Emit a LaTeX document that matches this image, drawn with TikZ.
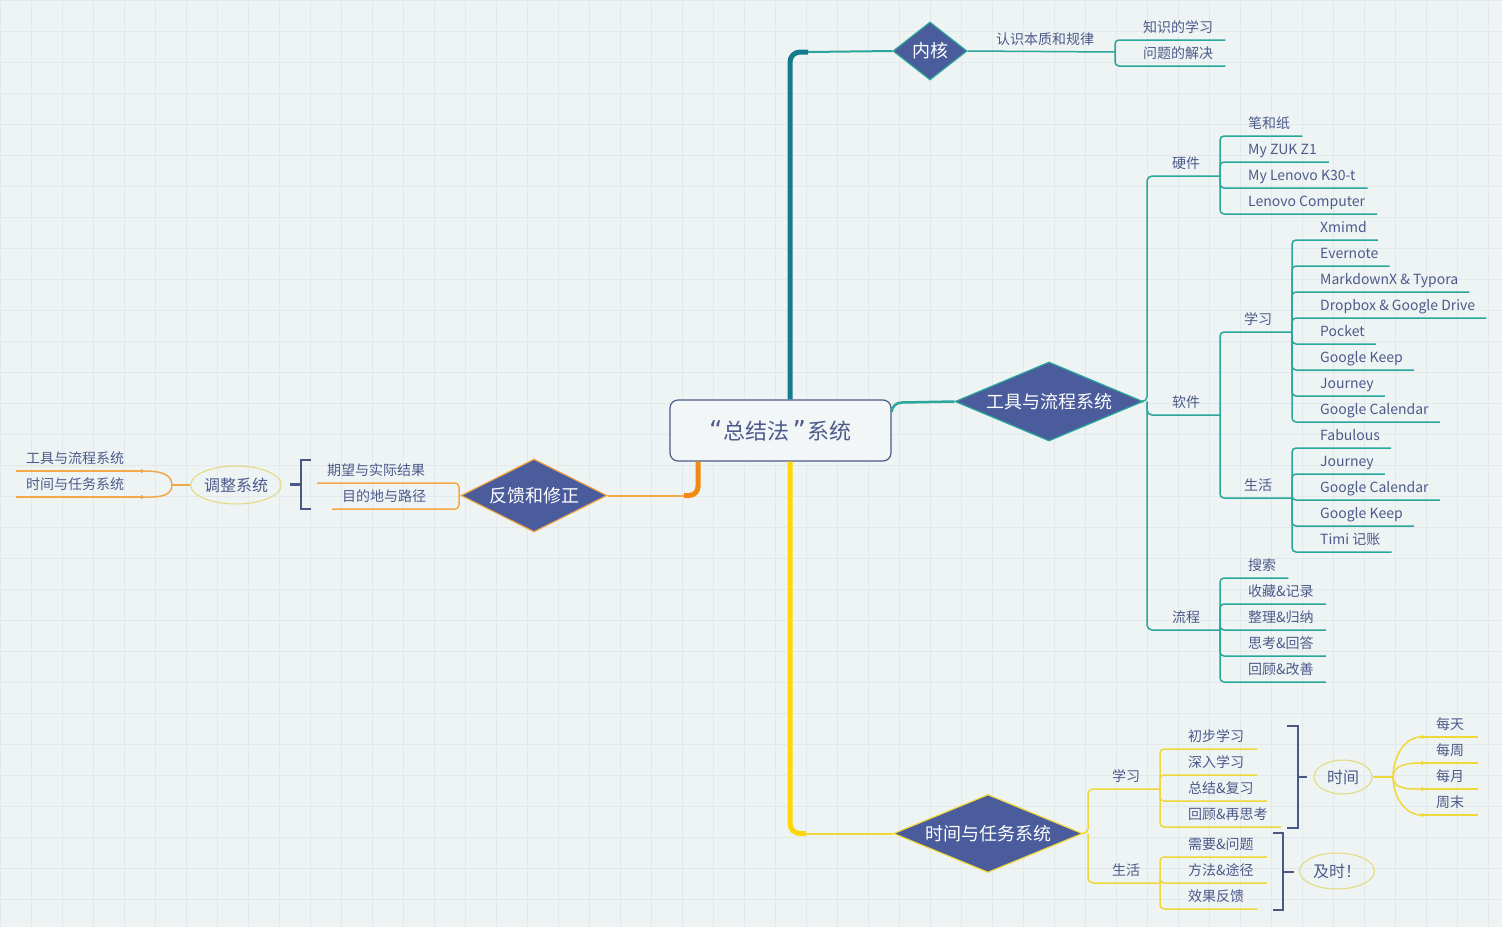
\documentclass[tikz,border=0pt]{standalone}
\usepackage{fontspec}
\setmainfont{Noto Sans CJK SC}
\newfontfamily\quotefont{DejaVu Sans}
\usetikzlibrary{shapes.geometric,arrows.meta}

\definecolor{bgcol}{HTML}{EEF3F4}
\definecolor{gridcol}{HTML}{E3E9EB}
\definecolor{txtcol}{HTML}{4D5A8A}
\definecolor{corecol}{HTML}{4E5C86}
\definecolor{corefill}{HTML}{F2F6F7}
\definecolor{dmdfill}{HTML}{4A5C9C}
\definecolor{tealdark}{HTML}{137B8C}
\definecolor{tealline}{HTML}{2AA79B}
\definecolor{orgdark}{HTML}{F28A12}
\definecolor{orgline}{HTML}{F3A848}
\definecolor{ylwdark}{HTML}{FFD60A}
\definecolor{ylwline}{HTML}{F0D83A}
\definecolor{sumcol}{HTML}{4A5888}
\definecolor{ellcol}{HTML}{E4D878}

\tikzset{
  core/.style={draw=corecol, line width=1.2pt, rounded corners=8pt, fill=corefill,
    text=txtcol, font=\fontsize{22}{26}\selectfont, minimum width=221pt, minimum height=61pt},
  dmd/.style={diamond, fill=dmdfill, text=white, font=\fontsize{18}{20}\selectfont,
    inner sep=0pt, line width=1.2pt},
  lbl/.style={anchor=south west, inner xsep=0pt, inner ysep=4.5pt, text height=11pt,
    text depth=2.5pt, text=txtcol, font=\fontsize{14}{16}\selectfont},
  hub/.style={lbl, anchor=south},
  ell/.style={ellipse, draw=ellcol, line width=1pt, text=txtcol, inner sep=0pt,
    font=\fontsize{16}{18}\selectfont},
  tline/.style={tealline, line width=1.5pt},
  oline/.style={orgline, line width=1.5pt},
  yline/.style={ylwline, line width=1.5pt},
  sbrace/.style={sumcol, line width=2.5pt},
}

\begin{document}
\begin{tikzpicture}[x=1pt,y=-1pt]
  \useasboundingbox (0,0) rectangle (1502,927);
  \fill[bgcol] (0,0) rectangle (1502,927);
  \draw[gridcol, line width=0.8pt] (0,0) grid[step=31pt] (1502,927);

  % centre and the four main topics
  \node[core] (core) at (780.5,430.5)
    {{\quotefont\fontsize{26}{26}\selectfont “}\hspace{1pt}总结法\hspace{3pt}{\quotefont\fontsize{26}{26}\selectfont ”}\hspace{2pt}系统};
  \node[dmd, draw=tealline, aspect=1.28, minimum width=74pt, minimum height=58pt] (neihe) at (930,51) {内核};
  \node[dmd, draw=tealline, aspect=2.38, minimum width=188pt, minimum height=79pt] (tools) at (1049,401.5) {工具与流程系统};
  \node[dmd, draw=orgline, aspect=2, minimum width=146pt, minimum height=73pt] (fankui) at (534,495.5) {反馈和修正};
  \node[dmd, draw=ylwline, aspect=2.42, minimum width=189pt, minimum height=78pt] (tasks) at (988,833.5) {时间与任务系统};

  \draw[tealdark, line width=5pt, rounded corners=10pt] ([xshift=9.5pt]core.north) |- (808,52);
  \draw[tline, line width=2pt] (808,52) -- (neihe.west);
  \draw[tline, line width=2.5pt] (core.east |- 0,412) to[out=90,in=180] (902,402.5) -- (tools.west);
  \draw[orgdark, line width=5pt, rounded corners=9pt] ([xshift=-82.5pt]core.south) |- (684,495.5);
  \draw[oline, line width=2pt] (684,495.5) -- (fankui.east);
  \draw[ylwdark, line width=5pt, rounded corners=10pt] ([xshift=9.5pt]core.south) |- (806,833.5);
  \draw[yline, line width=2pt] (806,833.5) -- (tasks.west);

  % neihe
  \coordinate (lawj) at (1115,52);
  \node[hub] (law) at (1045,52) {认识本质和规律};
  \draw[tline] (neihe.east) -- (lawj);
  \foreach \t [count=\i from 0] in {知识的学习, 问题的解决} {
    \node[lbl] (kn\i) at (1143,40+26*\i) {\t};
    \draw[tline, rounded corners=4pt] (lawj) |- ([xshift=12pt]kn\i.south east);
  }

  % tools: hardware
  \coordinate (hwj) at (1220,176);
  \node[hub] (hw) at (1186,176) {硬件};
  \draw[tline, rounded corners=5pt] (tools.east) -- (1147,401.5) |- (hwj);
  \foreach \t [count=\i from 0] in {笔和纸, My ZUK Z1, My Lenovo K30-t, Lenovo Computer} {
    \node[lbl] (hw\i) at (1248,136+26*\i) {\t};
    \draw[tline, rounded corners=4pt] (hwj) |- ([xshift=12pt]hw\i.south east);
  }

  % tools: software
  \coordinate (swj) at (1220,415);
  \node[hub] (sw) at (1186,415) {软件};
  \draw[tline, rounded corners=5pt] (1147,401.5) |- (swj);
  \coordinate (stj) at (1292,332);
  \node[hub] (st) at (1258,332) {学习};
  \draw[tline, rounded corners=4pt] (swj) |- (stj);
  \foreach \t [count=\i from 0] in {Xmimd, Evernote, MarkdownX \& Typora, Dropbox \& Google Drive,
      Pocket, Google Keep, Journey, Google Calendar} {
    \node[lbl] (st\i) at (1320,240+26*\i) {\t};
    \draw[tline, rounded corners=4pt] (stj) |- ([xshift=11pt]st\i.south east);
  }
  \coordinate (slj) at (1292,498);
  \node[hub] (sl) at (1258,498) {生活};
  \draw[tline, rounded corners=4pt] (swj) |- (slj);
  \foreach \t [count=\i from 0] in {Fabulous, Journey, Google Calendar, Google Keep, Timi 记账} {
    \node[lbl] (sl\i) at (1320,448+26*\i) {\t};
    \draw[tline, rounded corners=4pt] (slj) |- ([xshift=11pt]sl\i.south east);
  }

  % tools: workflow
  \coordinate (flj) at (1220,630);
  \node[hub] (fl) at (1186,630) {流程};
  \draw[tline, rounded corners=5pt] (1147,401.5) |- (flj);
  \foreach \t [count=\i from 0] in {搜索, 收藏\&记录, 整理\&归纳, 思考\&回答, 回顾\&改善} {
    \node[lbl] (fl\i) at (1248,578+26*\i) {\t};
    \draw[tline, rounded corners=4pt] (flj) |- ([xshift=12pt]fl\i.south east);
  }

  % tasks
  \coordinate (tlj) at (1160,789);
  \node[hub] (tl) at (1126,789) {学习};
  \coordinate (tsj) at (1160,883);
  \node[hub] (ts) at (1126,883) {生活};
  \draw[yline, rounded corners=5pt] (tasks.east) -- (1088,833.5) |- (tlj);
  \draw[yline, rounded corners=5pt] (1088,833.5) |- (tsj);
  \foreach \t [count=\i from 0] in {初步学习, 深入学习, 总结\&复习, 回顾\&再思考} {
    \node[lbl] (tl\i) at (1188,749+26*\i) {\t};
    \draw[yline, rounded corners=4pt] (tlj) |- ([xshift=13pt]tl\i.south east);
  }
  \foreach \t [count=\i from 0] in {需要\&问题, 方法\&途径, 效果反馈} {
    \node[lbl] (ts\i) at (1188,857+26*\i) {\t};
    \draw[yline, rounded corners=4pt] (tsj) |- ([xshift=13pt]ts\i.south east);
  }

  % summaries of the tasks
  \draw[sbrace] (1287,726) -| (1298,828) -- (1287,828);
  \draw[sbrace] (1298,777) -- (1307,777);
  \node[ell, minimum width=58pt, minimum height=34pt] (time) at (1343,777) {时间};
  \draw[sbrace] (1273,833) -| (1283,910) -- (1273,910);
  \draw[sbrace] (1283,872) -- (1294,872);
  \node[ell, minimum width=75pt, minimum height=36pt] (soon) at (1337,871) {及时！};

  \coordinate (tsplit) at (1393,777);
  \draw[yline] (time.east) -- (tsplit);
  \foreach \t/\y/\o [count=\i] in {每天/737/90, 每周/763/90, 每月/789/-90, 周末/815/-90} {
    \node[lbl] (per\i) at (1436,\y) {\t};
    \draw[yline, -{Circle[length=3.5pt]}] (tsplit) to[out=\o, in=180] (1424,\y);
    \draw[yline] (1423,\y) -- (1478,\y);
  }

  % feedback
  \coordinate (fkj) at (459,495.5);
  \draw[oline] (fankui.west) -- (fkj);
  \foreach \t/\px [count=\i from 0] in {期望与实际结果/327, 目的地与路径/342} {
    \node[lbl] (aim\i) at (\px,483+26*\i) {\t};
    \draw[oline, rounded corners=4pt] (fkj) |- ([xshift=-10pt]aim\i.south west);
  }
  \draw[sbrace] (311,460) -| (301,509) -- (311,509);
  \draw[sbrace] (301,484.5) -- (290,484.5);
  \node[ell, minimum width=88pt, minimum height=38pt] (adjust) at (236,485) {调整系统};

  \coordinate (asplit) at (172,485);
  \draw[oline] (adjust.west) -- (asplit);
  \foreach \t/\y/\o [count=\i] in {工具与流程系统/471/90, 时间与任务系统/497/-90} {
    \node[lbl] (back\i) at (26,\y) {\t};
    \draw[oline, -{Circle[length=3.5pt]}] (asplit) to[out=\o, in=0] (140,\y);
    \draw[oline] (141,\y) -- (16,\y);
  }
\end{tikzpicture}
\end{document}
